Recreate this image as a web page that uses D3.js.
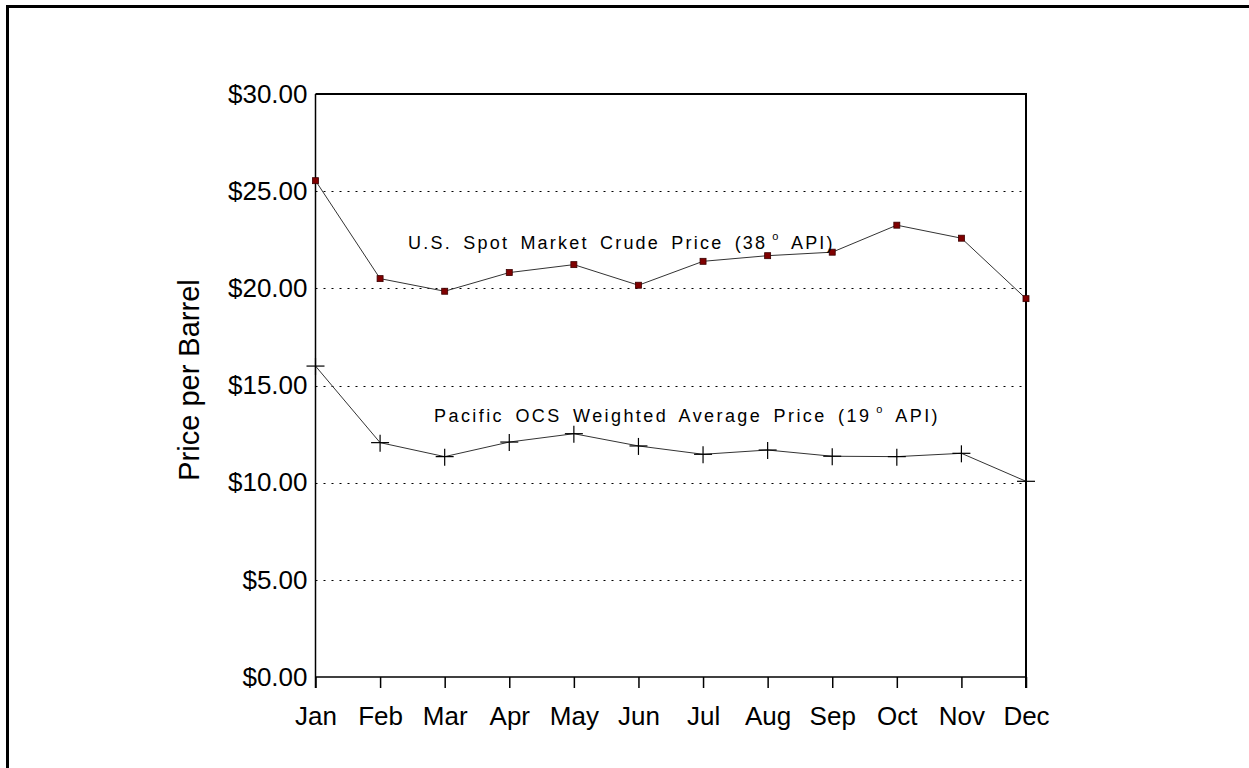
<!DOCTYPE html>
<html>
<head>
<meta charset="utf-8">
<script src="https://cdn.jsdelivr.net/npm/d3@7"></script>
<style>
  html, body { margin: 0; padding: 0; background: #fff; overflow: hidden; }
  svg { display: block; font-family: "Liberation Sans", Arial, sans-serif; }
</style>
</head>
<body>
<div id="chart"></div>
<script>
// Monate und Werte
const months = ["Jan", "Feb", "Mar", "Apr", "May", "Jun", "Jul", "Aug", "Sep", "Oct", "Nov", "Dec"];
const spotPrice = [25.54, 20.50, 19.85, 20.81, 21.22, 20.16, 21.39, 21.68, 21.86, 23.25, 22.58, 19.47];
const pacificPrice = [16.00, 12.06, 11.34, 12.09, 12.52, 11.89, 11.46, 11.68, 11.36, 11.34, 11.51, 10.07];
const yTicks = [0, 5, 10, 15, 20, 25, 30];
const gridValues = [5, 10, 15, 20, 25];

// Konfiguration
const width = 1249;
const height = 768;
const plot = {left: 315.5, right: 1026, top: 94, bottom: 677};

const svg = d3.select("#chart")
    .append("svg")
    .attr("width", width)
    .attr("height", height);

// Äußerer Rahmen (nur links und oben sichtbar)
svg.append("path")
    .attr("d", `M7.5,${height} L7.5,6.5 L${width},6.5`)
    .style("fill", "none")
    .style("stroke", "#000")
    .style("stroke-width", 3);

// Skalen
const x = d3.scalePoint()
    .domain(months)
    .range([plot.left, plot.right]);

const y = d3.scaleLinear()
    .domain([0, 30])
    .range([plot.bottom, plot.top]);

// Gitterlinien (gepunktet)
svg.selectAll(".grid")
    .data(gridValues)
    .join("line")
    .attr("class", "grid")
    .attr("x1", plot.left)
    .attr("x2", plot.right)
    .attr("y1", d => Math.round(y(d)) + 0.5)
    .attr("y2", d => Math.round(y(d)) + 0.5)
    .style("stroke", "#000")
    .style("stroke-width", 1)
    .style("stroke-dasharray", "2 6");

// X-Achse mit Ticks nach unten
const xAxis = svg.append("g")
    .attr("transform", `translate(0,${plot.bottom})`)
    .call(d3.axisBottom(x).tickSize(11).tickPadding(19).tickSizeOuter(0));
xAxis.select(".domain").remove();
xAxis.selectAll("line").style("stroke", "#000").style("stroke-width", 1.5);
xAxis.selectAll("text")
    .style("font-size", "26px")
    .style("fill", "#000")
    .style("font-family", "'Liberation Sans', Arial, sans-serif");

// Y-Achse ohne Ticks
const yAxis = svg.append("g")
    .attr("transform", `translate(${plot.left},0)`)
    .call(d3.axisLeft(y).tickValues(yTicks).tickSize(0).tickPadding(8)
        .tickFormat(d => "$" + d3.format(".2f")(d)));
yAxis.select(".domain").remove();
yAxis.selectAll("text")
    .style("font-size", "26px")
    .style("fill", "#000")
    .style("font-family", "'Liberation Sans', Arial, sans-serif");

// Rahmen des Plotbereichs
svg.append("line")
    .attr("x1", plot.left).attr("x2", plot.left)
    .attr("y1", plot.top).attr("y2", plot.bottom + 11)
    .style("stroke", "#000").style("stroke-width", 1.5);
svg.append("line")
    .attr("x1", plot.left).attr("x2", plot.right)
    .attr("y1", plot.bottom).attr("y2", plot.bottom)
    .style("stroke", "#000").style("stroke-width", 1.5);
svg.append("line")
    .attr("x1", plot.left).attr("x2", plot.right + 1)
    .attr("y1", plot.top).attr("y2", plot.top)
    .style("stroke", "#000").style("stroke-width", 2);
svg.append("line")
    .attr("x1", plot.right).attr("x2", plot.right)
    .attr("y1", plot.top).attr("y2", plot.bottom + 11)
    .style("stroke", "#000").style("stroke-width", 2);

// Y-Achsentitel
svg.append("text")
    .attr("transform", `translate(199,380) rotate(-90)`)
    .attr("text-anchor", "middle")
    .style("font-size", "29px")
    .style("fill", "#000")
    .text("Price per Barrel");

// Linien
const line = d3.line()
    .x((d, i) => x(months[i]))
    .y(d => y(d));

svg.append("path")
    .datum(spotPrice)
    .attr("d", line)
    .style("fill", "none")
    .style("stroke", "#333")
    .style("stroke-width", 1);

svg.append("path")
    .datum(pacificPrice)
    .attr("d", line)
    .style("fill", "none")
    .style("stroke", "#333")
    .style("stroke-width", 1);

// Marker: Quadrate für U.S. Spot
svg.selectAll(".sq")
    .data(spotPrice)
    .join("rect")
    .attr("class", "sq")
    .attr("x", (d, i) => x(months[i]) - 3)
    .attr("y", d => y(d) - 3)
    .attr("width", 6)
    .attr("height", 6)
    .style("fill", "#800000")
    .style("stroke", "#3a0000")
    .style("stroke-width", 0.8);

// Marker: Kreuze für Pacific OCS
const plus = svg.selectAll(".plus")
    .data(pacificPrice)
    .join("g")
    .attr("class", "plus")
    .attr("transform", (d, i) => `translate(${x(months[i])},${y(d)})`);
plus.append("line")
    .attr("x1", -9).attr("x2", 9).attr("y1", 0).attr("y2", 0)
    .style("stroke", "#000").style("stroke-width", 1.2);
plus.append("line")
    .attr("x1", 0).attr("x2", 0).attr("y1", -8).attr("y2", 9)
    .style("stroke", "#000").style("stroke-width", 1.2);

// Beschriftungen der Reihen
function seriesLabel(px, py, before, deg, after, targetWidth) {
    const t = svg.append("text")
        .attr("x", px)
        .attr("y", py)
        .style("font-size", "18px")
        .style("fill", "#000")
        .style("letter-spacing", "1.5px")
        .style("word-spacing", "4px");
    t.append("tspan").text(before);
    t.append("tspan")
        .attr("dy", -9)
        .attr("dx", 5)
        .style("font-size", "11px")
        .text(deg);
    t.append("tspan")
        .attr("dy", 9)
        .text(after);
    t.attr("textLength", targetWidth).attr("lengthAdjust", "spacing");
}

seriesLabel(x("Feb") + 28, y(22.2) + 3, "U.S. Spot Market Crude Price (38", "o", " API)", 426);
seriesLabel(x("Feb") + 54, y(13.0) - 2, "Pacific OCS Weighted Average Price (19", "o", " API)", 505);
</script>
</body>
</html>
